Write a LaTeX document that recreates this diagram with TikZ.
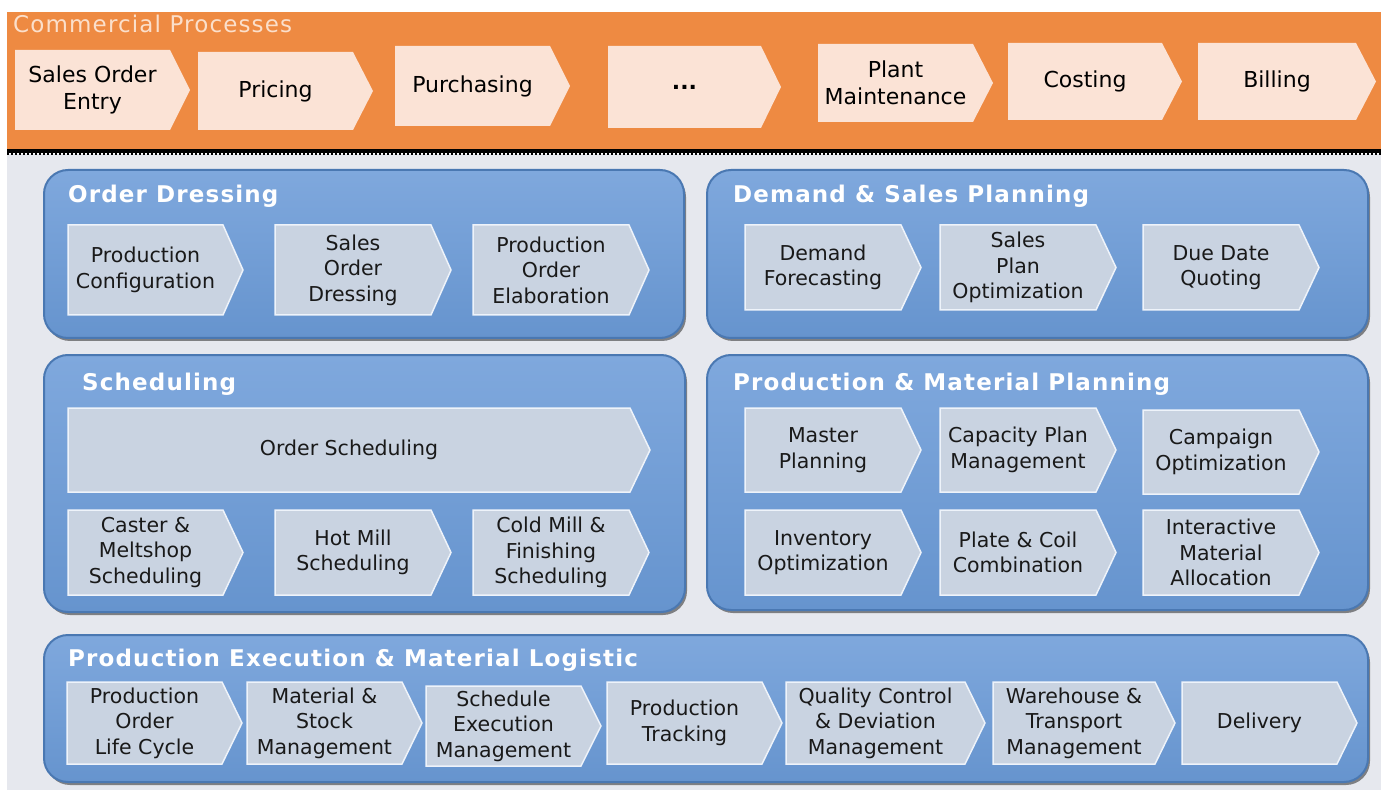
\documentclass[tikz,border=0pt]{standalone}
\usepackage{fontspec}
\setmainfont{DejaVu Sans}
\usetikzlibrary{shadows}
\definecolor{orangebg}{HTML}{EE8A42}
\definecolor{topchevfill}{HTML}{FBE3D6}
\definecolor{toptitle}{HTML}{FBDFCB}
\definecolor{graybg}{HTML}{E6E8EE}
\definecolor{paneltop}{HTML}{7FA8DD}
\definecolor{panelbot}{HTML}{6694CE}
\definecolor{paneledge}{HTML}{4A78B2}
\definecolor{inchevfill}{HTML}{C9D3E1}
\definecolor{inchevedge}{HTML}{EEF3FA}
\tikzset{
  x=1pt, y=-1pt,
  panel/.style={rounded corners=24pt, top color=paneltop, bottom color=panelbot,
    draw=paneledge, line width=2pt,
    drop shadow={shadow xshift=2pt, shadow yshift=-3pt, fill=black, opacity=0.45}},
  paneltitle/.style={anchor=base west, text=white, inner sep=0pt,
    font=\fontsize{23}{27}\selectfont\bfseries\addfontfeature{LetterSpace=5}},
  maintitle/.style={anchor=base west, text=toptitle, inner sep=0pt,
    font=\fontsize{23}{27}\selectfont\addfontfeature{LetterSpace=5}},
  topchev/.style={fill=topchevfill},
  topchev text/.style={align=center, inner sep=0pt, text=black,
    font=\fontsize{22}{27}\selectfont},
  inchev/.style={fill=inchevfill, draw=inchevedge, line width=1.5pt},
  inchev text/.style={align=center, inner sep=0pt, text=black!90,
    font=\fontsize{20.5}{25.5}\selectfont},
}
% name, x1, y1, x2, y2, style, text
\newcommand\chevron[7]{%
  \pgfmathsetmacro\cxa{#4-20}%
  \pgfmathsetmacro\cym{(#3+#5)/2}%
  \pgfmathsetmacro\cxm{(#2+#4-20)/2}%
  \path[#6] (#2,#3) -- (\cxa,#3) -- (#4,\cym) -- (\cxa,#5) -- (#2,#5) -- cycle;
  \node[#6 text] (#1) at (\cxm,\cym) {#7};%
}
\begin{document}
\begin{tikzpicture}
\useasboundingbox (0,0) rectangle (1387,794);
\fill[white] (0,0) rectangle (1387,794);
% backgrounds
\fill[graybg] (7,154) rectangle (1381,790);
\fill[orangebg] (7,12) rectangle (1381,149);
\draw[black, line width=4pt] (7,151) -- (1381,151);
\draw[black, line width=2pt, dash pattern=on 2pt off 2pt] (7,154) -- (1381,154);
\node[maintitle] (cptitle) at (13,33) {Commercial Processes};
% top chevrons
\chevron{soe}{15}{50}{190}{130}{topchev}{Sales Order\\Entry}
\chevron{pricing}{198}{52}{373}{130}{topchev}{Pricing}
\chevron{purch}{395}{46}{570}{126}{topchev}{Purchasing}
\chevron{dots}{608}{46}{781}{128}{topchev}{\textbf{...}}
\chevron{plant}{818}{44}{993}{122}{topchev}{Plant\\Maintenance}
\chevron{costing}{1008}{43}{1182}{120}{topchev}{Costing}
\chevron{billing}{1198}{43}{1376}{120}{topchev}{Billing}
% panels
\path[panel] (44,170) rectangle (684,338);
\path[panel] (707,170) rectangle (1368,338);
\path[panel] (44,355) rectangle (685,612);
\path[panel] (707,355) rectangle (1368,610);
\path[panel] (44,635) rectangle (1368,782);
\node[paneltitle] (odt) at (68,203) {Order Dressing};
\node[paneltitle] (dspt) at (733,203) {Demand \& Sales Planning};
\node[paneltitle] (scht) at (82,390) {Scheduling};
\node[paneltitle] (pmpt) at (733,390) {Production \& Material Planning};
\node[paneltitle] (pemt) at (68,666) {Production Execution \& Material Logistic};
% Order Dressing
\chevron{pc}{68}{225}{243}{315}{inchev}{Production\\Configuration}
\chevron{sod}{275}{225}{451}{315}{inchev}{Sales\\Order\\Dressing}
\chevron{poe}{473}{225}{649}{315}{inchev}{Production\\Order\\Elaboration}
% Demand & Sales Planning
\chevron{df}{745}{225}{921}{310}{inchev}{Demand\\Forecasting}
\chevron{spo}{940}{225}{1116}{310}{inchev}{Sales\\Plan\\Optimization}
\chevron{ddq}{1143}{225}{1319}{310}{inchev}{Due Date\\Quoting}
% Scheduling
\chevron{os}{68}{408}{650}{492}{inchev}{Order Scheduling}
\chevron{cms}{68}{510}{243}{595}{inchev}{Caster \&\\Meltshop\\Scheduling}
\chevron{hms}{275}{510}{451}{595}{inchev}{Hot Mill\\Scheduling}
\chevron{cmf}{473}{510}{649}{595}{inchev}{Cold Mill \&\\Finishing\\Scheduling}
% Production & Material Planning
\chevron{mp}{745}{408}{921}{492}{inchev}{Master\\Planning}
\chevron{cpm}{940}{408}{1116}{492}{inchev}{Capacity Plan\\Management}
\chevron{co}{1143}{410}{1319}{494}{inchev}{Campaign\\Optimization}
\chevron{io}{745}{510}{921}{595}{inchev}{Inventory\\Optimization}
\chevron{pcc}{940}{510}{1116}{595}{inchev}{Plate \& Coil\\Combination}
\chevron{ima}{1143}{510}{1319}{595}{inchev}{Interactive\\Material\\Allocation}
% Production Execution & Material Logistic
\chevron{polc}{67}{682}{242}{764}{inchev}{Production\\Order\\Life Cycle}
\chevron{msm}{247}{682}{422}{764}{inchev}{Material \&\\Stock\\Management}
\chevron{sem}{426}{686}{601}{766}{inchev}{Schedule\\Execution\\Management}
\chevron{pt}{607}{682}{782}{764}{inchev}{Production\\Tracking}
\chevron{qcd}{786}{682}{985}{764}{inchev}{Quality Control\\\& Deviation\\Management}
\chevron{wtm}{993}{682}{1175}{764}{inchev}{Warehouse \&\\Transport\\Management}
\chevron{del}{1182}{682}{1357}{764}{inchev}{Delivery}
\end{tikzpicture}
\end{document}
